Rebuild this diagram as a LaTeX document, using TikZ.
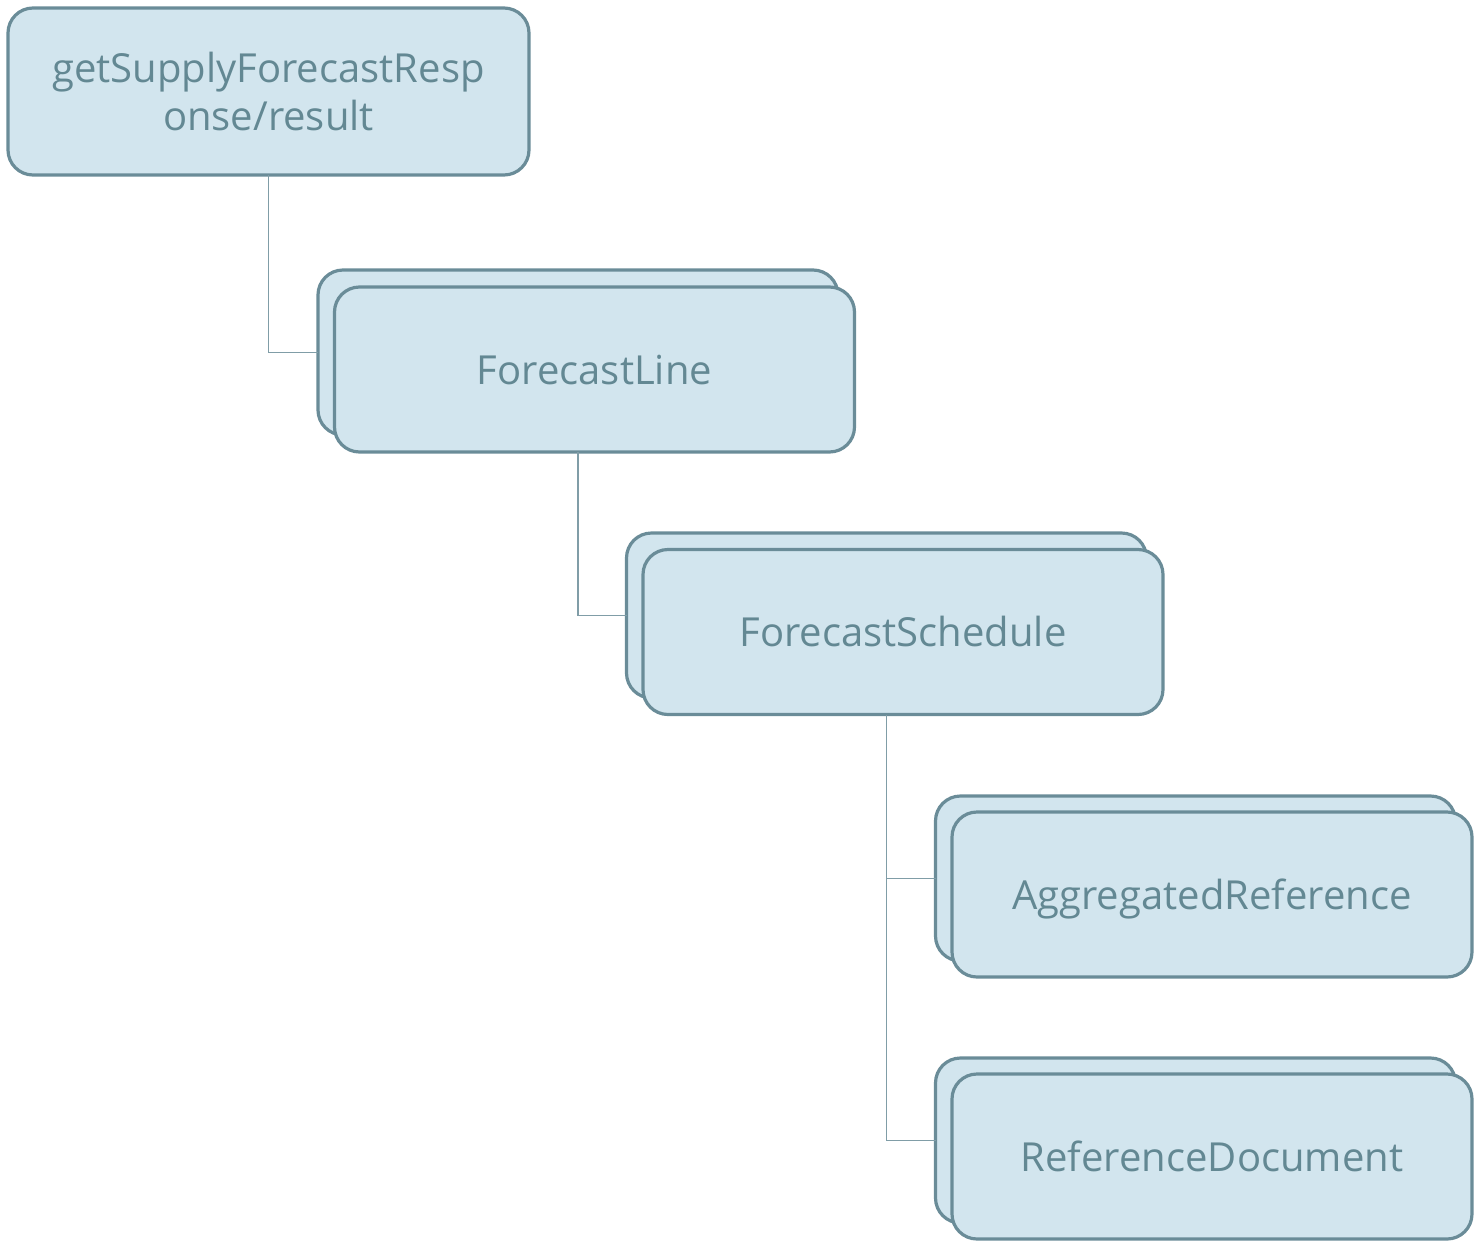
\documentclass[tikz,border=0pt]{standalone}
\usepackage{fontspec}
\setmainfont{Open Sans}
\definecolor{boxfill}{HTML}{D2E5EE}
\definecolor{boxline}{HTML}{6A8C98}
\definecolor{boxtext}{HTML}{638893}
\begin{document}
\begin{tikzpicture}[x=1pt,y=-1pt,
  box/.style={draw=boxline, fill=boxfill, line width=3.2pt, rounded corners=25pt,
    minimum width=#1, minimum height=165pt, inner sep=0pt, text=boxtext,
    font=\fontsize{40}{48}\selectfont, align=center, outer sep=0pt},
  box/.default=520pt,
  label1/.style={text depth=0pt, text height=29pt},
  conn/.style={draw=boxline!85, line width=1.6pt}]
\useasboundingbox (0,0) rectangle (1481,1240);
% root
\node[box=521pt, minimum height=167pt] (root) at (268.5,91.5) {getSupplyForecastResp\\onse/result};
% ForecastLine
\node[box] (flb) at (578,352.5) {};
\node[box, label1] (fl) at (594.5,369.5) {ForecastLine};
% ForecastSchedule
\node[box] (fsb) at (886.5,615.5) {};
\node[box, label1] (fs) at (903,632) {ForecastSchedule};
% AggregatedReference
\node[box] (arb) at (1195.5,878.5) {};
\node[box, label1] (ar) at (1212,894.5) {AggregatedReference};
% ReferenceDocument
\node[box] (rdb) at (1195.5,1140.5) {};
\node[box, label1] (rd) at (1212,1156.5) {ReferenceDocument};
% connectors
\draw[conn] (root.south) |- (flb.west);
\draw[conn] (flb.south |- fl.south) |- (fsb.west);
\draw[conn] (fsb.south |- fs.south) |- (arb.west);
\draw[conn] (fsb.south |- fs.south) |- (rdb.west);
\end{tikzpicture}
\end{document}
